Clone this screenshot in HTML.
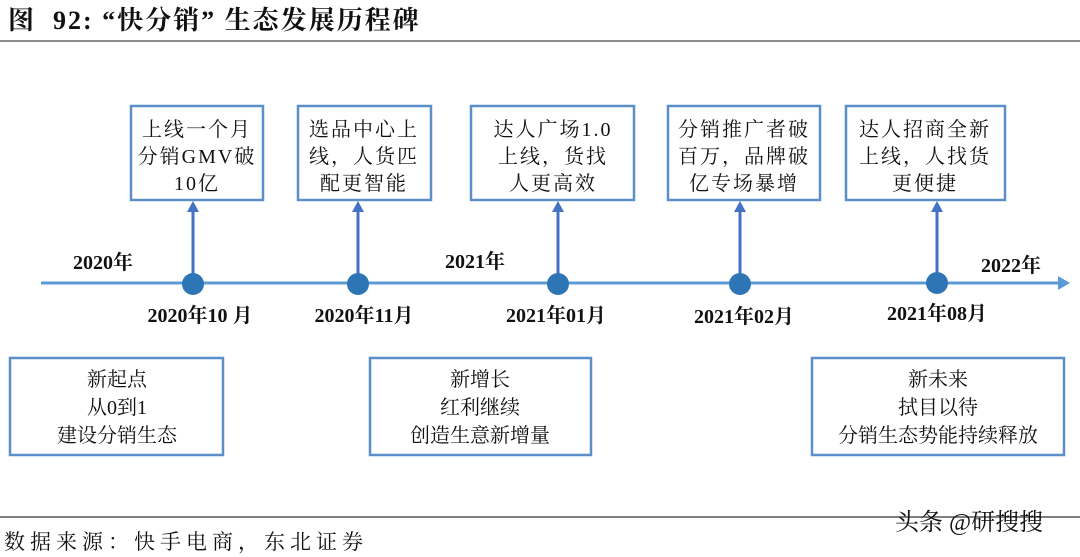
<!DOCTYPE html>
<html><head><meta charset="utf-8"><style>
html,body{margin:0;padding:0;background:#fff;}
svg{display:block;}
text{font-family:"Liberation Serif","Noto Serif CJK SC",serif;fill:#111;}
.b{font-weight:bold;}
</style></head><body>
<svg width="1080" height="557" viewBox="0 0 1080 557" xmlns="http://www.w3.org/2000/svg">
<text x="8" y="29" font-size="26" class="b" xml:space="preserve" letter-spacing="2">图  92: “快分销” 生态发展历程碑</text>
<line x1="0" y1="41" x2="1080" y2="41" stroke="#666" stroke-width="1.5"/>
<line x1="41" y1="283" x2="1060" y2="283" stroke="#5b9bd5" stroke-width="3"/>
<polygon points="1058,276 1070,283 1058,290" fill="#5b9bd5"/>
<g stroke="#4472c4" stroke-width="3" fill="#4472c4">
<line x1="193" y1="283" x2="193" y2="210"/><line x1="358" y1="283" x2="358" y2="210"/><line x1="558" y1="283" x2="558" y2="210"/><line x1="740" y1="283" x2="740" y2="210"/><line x1="937" y1="283" x2="937" y2="210"/>
</g>
<g fill="#4472c4">
<polygon points="187,212 193,201 199,212"/><polygon points="352,212 358,201 364,212"/><polygon points="552,212 558,201 564,212"/><polygon points="734,212 740,201 746,212"/><polygon points="931,212 937,201 943,212"/>
</g>
<g fill="#2e75b6">
<circle cx="193" cy="284" r="11"/><circle cx="358" cy="284" r="11"/><circle cx="558" cy="284" r="11"/><circle cx="740" cy="284" r="11"/><circle cx="937" cy="283" r="11"/>
</g>
<g fill="#fff" stroke="#5b8fc9" stroke-width="2.5">
<rect x="131" y="106" width="132" height="94"/><rect x="298" y="106" width="133" height="94"/><rect x="471" y="106" width="163" height="94"/><rect x="668" y="106" width="152" height="94"/><rect x="846" y="106" width="159" height="94"/>
</g>
<g font-size="20" text-anchor="middle" letter-spacing="2">
<text x="197" y="136">上线一个月</text><text x="197" y="163">分销GMV破</text><text x="197" y="190">10亿</text>
<text x="364" y="136">选品中心上</text><text x="364" y="163">线，人货匹</text><text x="364" y="190">配更智能</text>
<text x="553" y="136">达人广场1.0</text><text x="553" y="163">上线，货找</text><text x="553" y="190">人更高效</text>
<text x="744" y="136">分销推广者破</text><text x="744" y="163">百万，品牌破</text><text x="744" y="190">亿专场暴增</text>
<text x="925" y="136">达人招商全新</text><text x="925" y="163">上线，人找货</text><text x="925" y="190">更便捷</text>
</g>
<g font-size="20" class="b" text-anchor="middle">
<text x="103" y="269">2020年</text><text x="475" y="268">2021年</text><text x="1011" y="272">2022年</text>
<text x="200" y="322">2020年10 月</text><text x="364" y="322">2020年11月</text><text x="556" y="322">2021年01月</text><text x="744" y="323">2021年02月</text><text x="937" y="320">2021年08月</text>
</g>
<g fill="#fff" stroke="#5b8fc9" stroke-width="2.5">
<rect x="10" y="358" width="213" height="97"/><rect x="370" y="358" width="221" height="97"/><rect x="812" y="358" width="252" height="97"/>
</g>
<g font-size="20" text-anchor="middle">
<text x="117" y="386">新起点</text><text x="117" y="414">从0到1</text><text x="117" y="442">建设分销生态</text>
<text x="480" y="386">新增长</text><text x="480" y="414">红利继续</text><text x="480" y="442">创造生意新增量</text>
<text x="938" y="386">新未来</text><text x="938" y="414">拭目以待</text><text x="938" y="442">分销生态势能持续释放</text>
</g>
<line x1="0" y1="517" x2="1080" y2="517" stroke="#333" stroke-width="1.2"/>
<text x="4" y="549" font-size="21" letter-spacing="5">数据来源：快手电商，东北证券</text>
<text x="895" y="530" font-size="24" font-family="Liberation Sans,Noto Sans CJK SC,sans-serif" fill="#222">头条 @研搜搜</text>
</svg>
</body></html>
